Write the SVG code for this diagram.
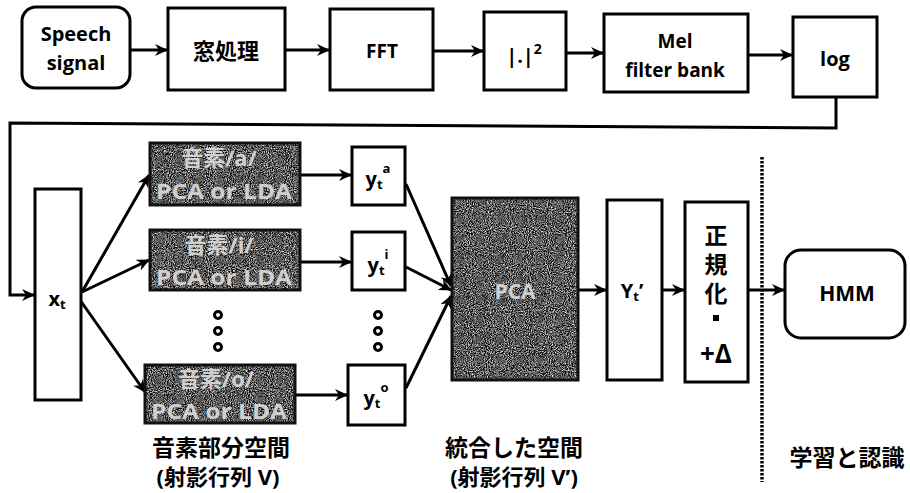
<svg xmlns="http://www.w3.org/2000/svg" width="910" height="493" viewBox="0 0 910 493">
<defs>
<style>
.b{fill:#fff;stroke:#000;stroke-width:3}
.ds{fill:none;stroke:#111;stroke-width:3}
.t{font-family:"Open Sans","Noto Sans","Noto Sans CJK JP",sans-serif;font-weight:bold;fill:#000;text-anchor:middle;dominant-baseline:central}
.lt{fill:#cfcfcf}
.c{stroke:#000;stroke-width:3;fill:none}
</style>
<marker id="ah" markerUnits="userSpaceOnUse" markerWidth="14" markerHeight="14" refX="12" refY="7" orient="auto">
<path d="M0,1 L13,7 L0,13 L4,7 z" fill="#000"/>
</marker>
<filter id="grain" x="0" y="0" width="100%" height="100%" color-interpolation-filters="sRGB">
<feTurbulence type="fractalNoise" baseFrequency="0.95" numOctaves="2" seed="4" result="t"/>
<feColorMatrix in="t" type="matrix" values="1.8 0 0 0 -0.55  1.8 0 0 0 -0.55  1.8 0 0 0 -0.55  0 0 0 0 1" result="g"/>
<feComposite in="g" in2="SourceGraphic" operator="in"/>
</filter>
</defs>
<rect width="910" height="493" fill="#fff"/>

<g id="connectors">
<line class="c" x1="130" y1="50" x2="167" y2="50" marker-end="url(#ah)"/>
<line class="c" x1="285" y1="50" x2="329" y2="50" marker-end="url(#ah)"/>
<line class="c" x1="433" y1="51" x2="483" y2="51" marker-end="url(#ah)"/>
<line class="c" x1="566" y1="53" x2="603" y2="53" marker-end="url(#ah)"/>
<line class="c" x1="748" y1="55" x2="792" y2="55" marker-end="url(#ah)"/>
<polyline class="c" points="836,97 836,128 10,123 10,295 34,295" marker-end="url(#ah)"/>
<line class="c" x1="82" y1="292" x2="149" y2="175" marker-end="url(#ah)"/>
<line class="c" x1="82" y1="292" x2="149" y2="260" marker-end="url(#ah)"/>
<line class="c" x1="80" y1="300" x2="145" y2="392" marker-end="url(#ah)"/>
<line class="c" x1="300" y1="175" x2="351" y2="175" marker-end="url(#ah)"/>
<line class="c" x1="300" y1="262" x2="351" y2="262" marker-end="url(#ah)"/>
<line class="c" x1="295" y1="395" x2="347" y2="395" marker-end="url(#ah)"/>
<line class="c" x1="406" y1="184" x2="451" y2="286" marker-end="url(#ah)"/>
<line class="c" x1="406" y1="267" x2="451" y2="290" marker-end="url(#ah)"/>
<line class="c" x1="406" y1="388" x2="451" y2="296" marker-end="url(#ah)"/>
<line class="c" x1="578" y1="290" x2="606" y2="290" marker-end="url(#ah)"/>
<line class="c" x1="662" y1="290" x2="684" y2="290" marker-end="url(#ah)"/>
<line class="c" x1="748" y1="290" x2="784" y2="290" marker-end="url(#ah)"/>
<line x1="762" y1="157" x2="762" y2="482" stroke="#000" stroke-width="3.5" stroke-dasharray="2.5 1.5"/>
</g>

<g id="speech">
<rect class="b" x="22" y="7" width="108" height="81" rx="14"/>
<text class="t" x="76" y="33" font-size="20">Speech</text>
<text class="t" x="76" y="62" font-size="20">signal</text>
</g>
<g id="window">
<rect class="b" x="168" y="8" width="117" height="82"/>
<text class="t" x="226" y="50" font-size="22">窓処理</text>
</g>
<g id="fft">
<rect class="b" x="330" y="9" width="103" height="81"/>
<text class="t" x="382" y="51" font-size="19">FFT</text>
</g>
<g id="abs">
<rect class="b" x="484" y="12" width="82" height="78"/>
<text class="t" x="524" y="55" font-size="20">|.|<tspan font-size="14" dy="-7">2</tspan></text>
</g>
<g id="mel">
<rect class="b" x="604" y="14" width="144" height="78"/>
<text class="t" x="675" y="41" font-size="19">Mel</text>
<text class="t" x="675" y="70" font-size="19">filter bank</text>
</g>
<g id="log">
<rect class="b" x="793" y="17" width="84" height="80"/>
<text class="t" x="835" y="58" font-size="20">log</text>
</g>

<g id="xt">
<rect class="b" x="35" y="189" width="46" height="211"/>
<text class="t" x="57" y="298" font-size="20">x<tspan font-size="13" dy="6">t</tspan></text>
</g>

<g id="pa">
<rect x="150" y="143" width="150" height="62" fill="#000" filter="url(#grain)"/>
<rect class="ds" x="150" y="143" width="150" height="62"/>
<text class="t lt" x="219" y="157" font-size="22">音素/a/</text>
<text class="t lt" x="224" y="190" font-size="22" textLength="136" lengthAdjust="spacingAndGlyphs">PCA or LDA</text>
</g>
<g id="pi">
<rect x="150" y="230" width="150" height="60" fill="#000" filter="url(#grain)"/>
<rect class="ds" x="150" y="230" width="150" height="60"/>
<text class="t lt" x="219" y="244" font-size="22">音素/i/</text>
<text class="t lt" x="224" y="276" font-size="22" textLength="136" lengthAdjust="spacingAndGlyphs">PCA or LDA</text>
</g>
<g id="po">
<rect x="145" y="365" width="150" height="58" fill="#000" filter="url(#grain)"/>
<rect class="ds" x="145" y="365" width="150" height="58"/>
<text class="t lt" x="216" y="378" font-size="22">音素/o/</text>
<text class="t lt" x="219" y="410" font-size="22" textLength="136" lengthAdjust="spacingAndGlyphs">PCA or LDA</text>
</g>
<g id="dots1" fill="none" stroke="#000" stroke-width="3">
<circle cx="218" cy="315" r="3.5"/><circle cx="218" cy="331" r="3.5"/><circle cx="218" cy="347" r="3.5"/>
</g>
<g id="dots2" fill="none" stroke="#000" stroke-width="3">
<circle cx="378" cy="315" r="3.5"/><circle cx="378" cy="331" r="3.5"/><circle cx="378" cy="347" r="3.5"/>
</g>

<g id="ya">
<rect class="b" x="352" y="147" width="53" height="58"/>
<text class="t" x="378" y="178" font-size="20">y<tspan font-size="13" dy="6">t</tspan><tspan font-size="13" dy="-16">a</tspan></text>
</g>
<g id="yi">
<rect class="b" x="352" y="232" width="53" height="58"/>
<text class="t" x="378" y="264" font-size="20">y<tspan font-size="13" dy="6">t</tspan><tspan font-size="13" dy="-16">i</tspan></text>
</g>
<g id="yo">
<rect class="b" x="348" y="365" width="57" height="60"/>
<text class="t" x="376" y="397" font-size="20">y<tspan font-size="13" dy="6">t</tspan><tspan font-size="13" dy="-16">o</tspan></text>
</g>

<g id="pca">
<rect x="452" y="198" width="126" height="182" fill="#000" filter="url(#grain)"/>
<rect class="ds" x="452" y="198" width="126" height="182"/>
<text class="t lt" x="515" y="291" font-size="21">PCA</text>
</g>
<g id="yt">
<rect class="b" x="607" y="200" width="55" height="180"/>
<text class="t" x="632" y="290" font-size="20">Y<tspan font-size="13" dy="6">t</tspan><tspan dy="-6">’</tspan></text>
</g>
<g id="norm">
<rect class="b" x="685" y="202" width="63" height="180"/>
<text class="t" x="716" y="235" font-size="23">正</text>
<text class="t" x="716" y="264" font-size="23">規</text>
<text class="t" x="716" y="293" font-size="23">化</text>
<rect x="713" y="315" width="6" height="6" fill="#000"/>
<text class="t" x="716" y="353" font-size="26">+Δ</text>
</g>
<g id="hmm">
<rect class="b" x="785" y="250" width="120" height="88" rx="16"/>
<text class="t" x="847" y="293" font-size="21">HMM</text>
</g>

<g id="labels">
<text class="t" x="221" y="447" font-size="23">音素部分空間</text>
<text class="t" x="218" y="476" font-size="22">(射影行列 V)</text>
<text class="t" x="514" y="447" font-size="23">統合した空間</text>
<text class="t" x="514" y="476" font-size="22">(射影行列 V’)</text>
<text class="t" x="847" y="457" font-size="23">学習と認識</text>
</g>
</svg>
